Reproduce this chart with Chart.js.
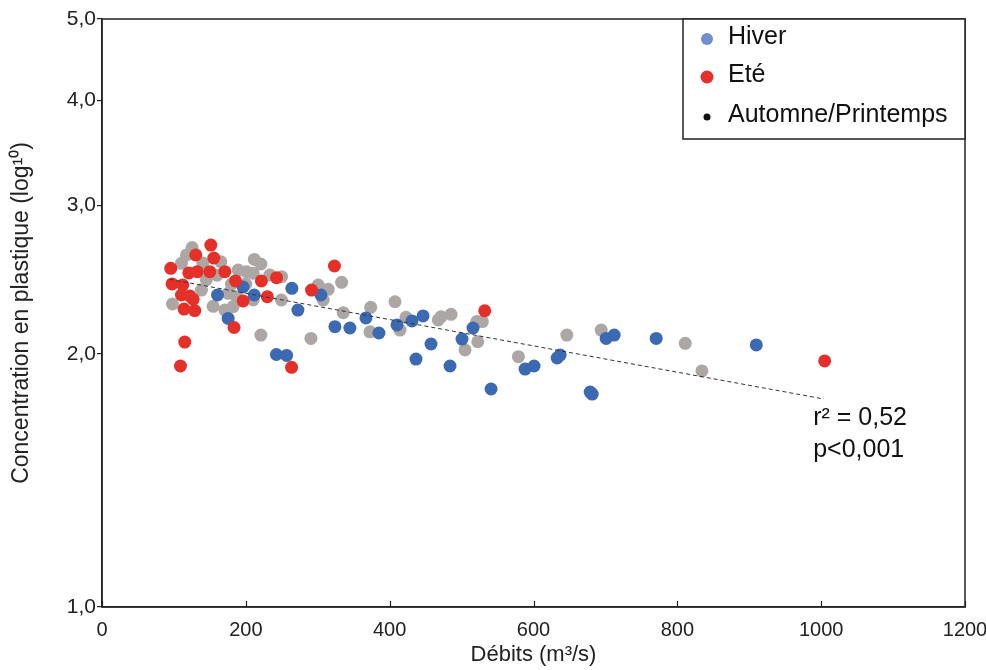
<!DOCTYPE html>
<html>
<head>
<meta charset="utf-8">
<script src="https://cdn.jsdelivr.net/npm/chart.js@4.4.1/dist/chart.umd.min.js"></script>
<style>
html,body{margin:0;padding:0;background:#fff;}
#wrap{width:986px;height:670px;}
</style>
</head>
<body>
<div id="wrap"><canvas id="c" width="986" height="670"></canvas></div>
<script>
// ---- data (x = Débits m3/s, y = concentration) ----
const hiverX = [160.6,196.2,211.6,175.4,242.5,256.7,264.0,272.4,304.4,323.9,344.7,367.0,385.1,410.2,431.0,446.4,457.5,436.6,483.9,500.6,515.9,541.0,588.3,600.8,632.9,637.0,678.8,681.6,701.0,712.2,770.6,909.8];
const hiverY = [2.349,2.401,2.349,2.203,1.996,1.991,2.392,2.254,2.349,2.154,2.146,2.206,2.117,2.164,2.188,2.218,2.054,1.971,1.934,2.082,2.146,1.816,1.918,1.934,1.977,1.993,1.801,1.791,2.086,2.105,2.086,2.049];

const eteX = [151.3,130.4,155.5,95.6,120.7,132.5,149.9,170.8,97.4,112.3,110.5,122.1,126.7,114.1,129.0,115.1,109.1,185.7,196.2,221.6,229.9,242.7,183.6,263.6,291.4,323.2,532.2,1004.9];
const eteY = [2.693,2.621,2.599,2.527,2.495,2.504,2.504,2.504,2.421,2.414,2.349,2.343,2.322,2.260,2.251,2.065,1.934,2.441,2.311,2.441,2.338,2.463,2.149,1.927,2.381,2.543,2.250,1.961];

const autX = [125.3,117.5,110.5,140.2,165.2,189.3,201.0,210.2,211.8,220.9,233.4,249.7,138.3,175.4,187.1,98.0,154.5,170.8,182.3,210.2,249.4,220.9,290.5,300.6,314.5,333.2,307.6,335.4,373.6,407.4,372.6,414.3,422.7,467.6,471.4,485.3,521.1,528.9,522.5,504.8,579.0,646.3,694.1,811.0,834.2,145,160,180,200];
const autY = [2.675,2.621,2.562,2.564,2.573,2.515,2.504,2.493,2.589,2.557,2.481,2.470,2.381,2.360,2.338,2.292,2.277,2.254,2.275,2.317,2.317,2.105,2.086,2.414,2.386,2.432,2.317,2.238,2.271,2.306,2.124,2.134,2.210,2.194,2.213,2.228,2.184,2.184,2.067,2.021,1.984,2.105,2.134,2.058,1.908,2.45,2.48,2.42,2.42];

const trendX = [94, 1004];
const trendY = [2.452, 1.767];

const seriesNames = ['Hiver', 'Eté', 'Automne/Printemps'];
const xTicks = [0,200,400,600,800,1000,1200];
const yTicks = [1,2,3,4,5];
const yTickLabels = ['1,0','2,0','3,0','4,0','5,0'];
const annotLines = ['r² = 0,52', 'p<0,001'];
const xTitle = 'Débits (m³/s)';
const yTitle = 'Concentration en plastique (log¹⁰)';

const pts = (xs, ys) => xs.map((x, i) => ({x: x, y: ys[i]}));

const FONT = '"Liberation Sans", Arial, sans-serif';
const BLUE = '#3b6ab3', RED = '#e5302a', GRAY = '#aca7a4', LINE = '#222';

const framePlugin = {
  id: 'frame',
  afterDraw(chart) {
    const ctx = chart.ctx, a = chart.chartArea;
    const xs = chart.scales.x, ys = chart.scales.y;
    ctx.save();
    ctx.strokeStyle = LINE; ctx.lineWidth = 1.5;
    ctx.strokeRect(a.left, a.top, a.right - a.left, a.bottom - a.top);
    // inward bottom ticks
    ctx.lineWidth = 1.2;
    xTicks.forEach(v => {
      const px = Math.round(xs.getPixelForValue(v)) + 0.5;
      ctx.beginPath(); ctx.moveTo(px, a.bottom); ctx.lineTo(px, a.bottom - 6); ctx.stroke();
    });
    // legend box
    const lx = 683, ly = a.top, lw = a.right - lx, lh = 120;
    ctx.fillStyle = '#fff';
    ctx.fillRect(lx, ly, lw, lh);
    ctx.lineWidth = 1.5; ctx.strokeStyle = LINE;
    ctx.strokeRect(lx, ly, lw, lh);
    const markers = [
      {c: '#6f8fd0', r: 6},
      {c: RED, r: 6.5},
      {c: '#111', r: 3.5}
    ];
    const rowY = [37, 75, 115];
    ctx.font = '25px ' + FONT; ctx.textBaseline = 'middle'; ctx.textAlign = 'left';
    seriesNames.forEach((n, i) => {
      ctx.fillStyle = markers[i].c;
      ctx.beginPath(); ctx.arc(707, rowY[i] + 2, markers[i].r, 0, Math.PI * 2); ctx.fill();
      ctx.fillStyle = '#111';
      ctx.fillText(n, 728, rowY[i]);
    });
    // annotation
    const ax = xs.getPixelForValue(1000) - 8, ay = ys.getPixelForValue(trendY[1]);
    ctx.fillStyle = '#111'; ctx.font = '25px ' + FONT;
    ctx.fillText(annotLines[0], ax, ay + 19);
    ctx.fillText(annotLines[1], ax, ay + 51);
    ctx.restore();
  }
};

new Chart(document.getElementById('c'), {
  type: 'scatter',
  data: {
    datasets: [
      {label: seriesNames[2], data: pts(autX, autY), backgroundColor: GRAY, borderWidth: 0, pointRadius: 6.5, order: 3},
      {label: seriesNames[0], data: pts(hiverX, hiverY), backgroundColor: BLUE, borderWidth: 0, pointRadius: 6.5, order: 2},
      {label: seriesNames[1], data: pts(eteX, eteY), backgroundColor: RED, borderWidth: 0, pointRadius: 6.5, order: 1},
      {label: 'trend', data: pts(trendX, trendY), showLine: true, pointRadius: 0, borderColor: '#333', borderWidth: 1, borderDash: [4, 3], fill: false, order: 0}
    ]
  },
  options: {
    responsive: false,
    animation: false,
    events: [],
    layout: {padding: {top: 19, right: 21, left: 0, bottom: 0}},
    plugins: {legend: {display: false}, tooltip: {enabled: false}},
    scales: {
      x: {
        type: 'linear', min: 0, max: 1200,
        afterBuildTicks: s => { s.ticks = xTicks.map(v => ({value: v})); },
        afterFit: s => { s.height = 63; s.paddingLeft = 0; s.paddingRight = 0; },
        grid: {display: true, drawOnChartArea: false, drawTicks: false},
        border: {display: true, color: LINE, width: 1.5},
        ticks: {color: '#222', font: {family: FONT, size: 20}, padding: 11, maxRotation: 0, callback: v => String(v)},
        title: {display: true, text: xTitle, color: '#222', font: {family: FONT, size: 22}, padding: {top: 0, bottom: 2}}
      },
      y: {
        type: 'logarithmic', min: 1, max: 5,
        afterBuildTicks: s => { s.ticks = yTicks.map(v => ({value: v})); },
        afterFit: s => { s.width = 102; s.paddingTop = 0; s.paddingBottom = 0; },
        grid: {display: true, drawOnChartArea: false, drawTicks: true, tickLength: 5, color: LINE, lineWidth: 1.2},
        border: {display: true, color: LINE, width: 1.5},
        ticks: {color: '#222', font: {family: FONT, size: 21}, padding: 1, callback: (v, i) => yTickLabels[yTicks.indexOf(v)] ?? ''},
        title: {display: true, text: yTitle, color: '#222', font: {family: FONT, size: 23}, padding: {top: 8, bottom: 0}}
      }
    }
  },
  plugins: [framePlugin]
});
</script>
</body>
</html>
